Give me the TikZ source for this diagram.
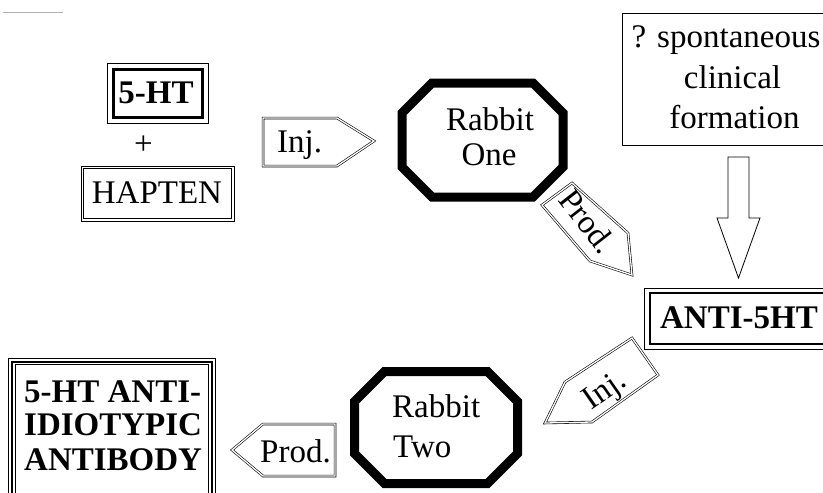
\documentclass[tikz,border=0pt]{standalone}
\usepackage{fontspec}
\setmainfont{Liberation Serif}
\begin{document}
\begin{tikzpicture}[x=1pt,y=-1pt,
  txt/.style={inner sep=0pt, font=\fontsize{33}{40}\selectfont},
  btxt/.style={inner sep=0pt, font=\fontsize{33}{40}\selectfont\bfseries},
  dbl/.style={double, double distance=1.3pt, line width=0.6pt, line join=miter, fill=white},
  octo/.style={line width=9pt, line join=miter},
  thinline/.style={line width=0.8pt}]
\useasboundingbox (0,0) rectangle (823,493);
\clip (0,0) rectangle (823,493);
% stray scan line
\draw[gray!60, line width=0.8pt] (3,12) -- (63,12);
% 5-HT box
\draw[thinline] (107,63) rectangle (208,123);
\draw[line width=3pt] (113,69) rectangle (202,117);
\node[btxt, anchor=base] (ht) at (156,103) {5-HT};
\node[txt] (plus) at (143.5,145) {+};
% HAPTEN box
\draw[line width=0.7pt] (81,166) rectangle (234,221);
\draw[line width=0.7pt] (83.5,168.5) rectangle (231.5,218.5);
\node[txt, anchor=base] (hapten) at (157,203) {HAPTEN};
% Inj. arrow (top)
\draw[dbl] (263,118) -- (337,118) -- (374,141) -- (337,166) -- (263,166) -- cycle;
\node[txt, anchor=base west] (inj1) at (277,152) {Inj.};
% Rabbit One
\draw[octo] (432,83) -- (533,83) -- (563,113) -- (563,167) -- (533,197) -- (432,197) -- (402,167) -- (402,113) -- cycle;
\node[txt, anchor=base] (r1a) at (490,130) {Rabbit};
\node[txt, anchor=base] (r1b) at (489,165) {One};
% Prod. arrow (upper, rotated)
\draw[dbl] (542,205) -- (572,183) -- (628,233) -- (632,275) -- (590,261) -- cycle;
\node[txt, rotate=-52] (prod1) at (588,221) {Prod.};
% spontaneous box
\draw[thinline] (622,13) rectangle (850,145);
\node[txt, anchor=base] (sp1) at (726,47) {? spontaneous};
\node[txt, anchor=base] (sp2) at (732.5,88) {clinical};
\node[txt, anchor=base] (sp3) at (734.5,128) {formation};
% big down arrow
\draw[line width=0.8pt, fill=white] (728,157) -- (749,157) -- (749,218) -- (760,218) -- (738.5,278) -- (717,218) -- (728,218) -- cycle;
% ANTI-5HT box
\draw[line width=1pt] (644,288) rectangle (850,349);
\draw[line width=2pt] (650,293) rectangle (845,344);
\node[btxt, anchor=base] (anti) at (739,328) {ANTI-5HT};
% Inj. arrow (lower, rotated)
\draw[dbl] (632,338) -- (658,375) -- (592,422) -- (545,423) -- (565,382) -- cycle;
\node[txt, rotate=35] (inj2) at (606,392) {Inj.};
% Rabbit Two
\draw[octo] (384.5,371.5) -- (487.5,371.5) -- (517.5,401.5) -- (517.5,453.5) -- (487.5,483.5) -- (384.5,483.5) -- (354.5,453.5) -- (354.5,401.5) -- cycle;
\node[txt, anchor=base west] (r2a) at (392,417) {Rabbit};
\node[txt, anchor=base west] (r2b) at (393,457) {Two};
% Prod. arrow (lower)
\draw[dbl] (232,450) -- (263,424) -- (335,424) -- (335,476) -- (263,476) -- cycle;
\node[txt, anchor=base west] (prod2) at (260,462) {Prod.};
% antibody box
\draw[line width=0.8pt] (8,358) rectangle (215,520);
\draw[line width=2pt] (12,361.5) rectangle (211.5,520);
\draw[line width=0.7pt] (15.5,364.5) rectangle (208,520);
\node[btxt, anchor=base west] (ab1) at (24,402) {5-HT ANTI-};
\node[btxt, anchor=base west] (ab2) at (24,435) {IDIOTYPIC};
\node[btxt, anchor=base west] (ab3) at (24,470) {ANTIBODY};
\end{tikzpicture}
\end{document}
